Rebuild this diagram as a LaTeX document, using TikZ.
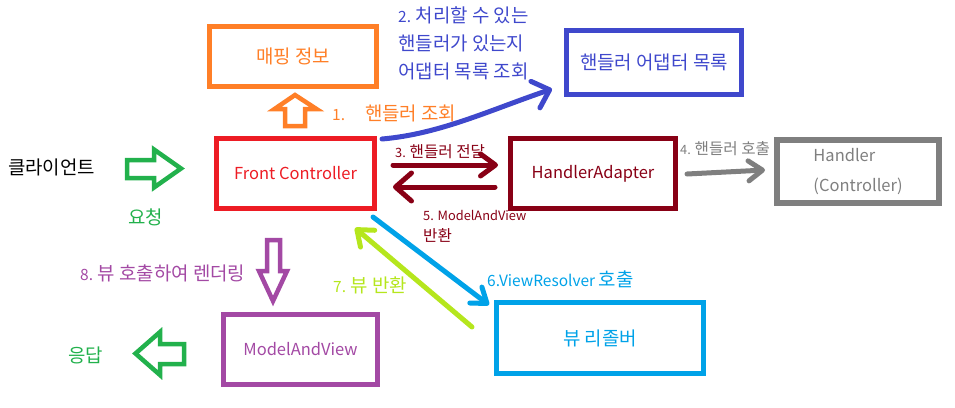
\documentclass[tikz,border=0pt]{standalone}
\usepackage{fontspec}
\setmainfont{Noto Sans CJK KR}
\newfontfamily\krf{Noto Sans CJK KR}[Scale=1.22]
\newcommand\K[1]{{\krf #1}}
\usetikzlibrary{arrows.meta}
\definecolor{corange}{HTML}{FF7F27}
\definecolor{cblue}{HTML}{3F48CC}
\definecolor{cred}{HTML}{ED1C24}
\definecolor{cdarkred}{HTML}{880015}
\definecolor{cgray}{HTML}{7F7F7F}
\definecolor{clblue}{HTML}{00A2E8}
\definecolor{clime}{HTML}{B5E61D}
\definecolor{cpurple}{HTML}{A349A4}
\definecolor{cgreen}{HTML}{22B14C}
\tikzset{
  box/.style={draw, line width=5pt, inner sep=0pt, align=center, font=\fontsize{16.5}{20}\selectfont},
  lbl/.style={anchor=west, inner sep=0pt, font=\fontsize{15.5}{18}\selectfont},
  small/.style={anchor=west, inner sep=0pt, font=\fontsize{12.8}{15}\selectfont},
  conn/.style={line width=5pt, line cap=round, line join=round},
  blockarrow/.style={line width=4.5pt, line join=miter},
}
\begin{document}
\begin{tikzpicture}[x=1pt,y=-1pt]
\useasboundingbox (0,0) rectangle (955,407);
% boxes
\node[box, draw=corange, text=corange, minimum width=167pt, minimum height=60pt, font=\fontsize{15.5}{18}\selectfont] (map) at (293,56.5) {\K{매핑 정보}};
\node[box, draw=cblue, text=cblue, minimum width=175pt, minimum height=64pt, font=\fontsize{15.5}{18}\selectfont] (hal) at (654,62.5) {\K{핸들러 어댑터 목록}};
\node[box, draw=cred, text=cred, minimum width=158pt, minimum height=70pt] (fc) at (295.5,173.5) {Front Controller};
\node[box, draw=cdarkred, text=cdarkred, minimum width=165pt, minimum height=70pt] (ha) at (593,173.5) {HandlerAdapter};
\node[box, draw=cgray, text=cgray, line width=6pt, minimum width=162pt, minimum height=63pt, align=left, font=\fontsize{16.5}{30}\selectfont] (hd) at (858,171.5) {Handler\\(Controller)};
\node[box, draw=clblue, text=clblue, minimum width=207pt, minimum height=71pt, font=\fontsize{15.5}{18}\selectfont] (vr) at (600,338) {\K{뷰 리졸버}};
\node[box, draw=cpurple, text=cpurple, minimum width=154pt, minimum height=70pt] (mav) at (300.5,349.5) {ModelAndView};

% labels
\node[anchor=west, inner sep=0pt, font=\fontsize{15.5}{20}\selectfont] (client) at (8,167) {\K{클라이언트}};
\node[lbl, text=cgreen] (req) at (128,217) {\K{요청}};
\node[lbl, text=cgreen] (resp) at (68,355) {\K{응답}};
\node[lbl, text=corange] (l1) at (332,113) {1.\hspace{20pt}\K{핸들러 조회}};
\node[lbl, text=cblue, align=left, font=\fontsize{15.5}{28}\selectfont] (l2) at (398,43) {2. \K{처리할 수 있는}\\\K{핸들러가 있는지}\\\K{어댑터 목록 조회}};
\node[small, text=cdarkred] (l3) at (395,152) {3. \K{핸들러 전달}};
\node[small, text=cgray] (l4) at (680,149) {4. \K{핸들러 호출}};
\node[small, text=cdarkred, align=left, font=\fontsize{12.8}{21}\selectfont] (l5) at (423,226.5) {5. ModelAndView\\\K{반환}};
\node[lbl, text=clblue] (l6) at (487,279) {6.ViewResolver \K{호출}};
\node[lbl, text=clime] (l7) at (333,285) {7. \K{뷰 반환}};
\node[lbl, text=cpurple] (l8) at (80,273) {8. \K{뷰 호출하여 렌더링}};

% block arrows
\draw[blockarrow, cgreen] (127,160) -- (154,160) -- (154,149.5) -- (181,168.5) -- (154,187.5) -- (154,178) -- (127,178) -- cycle;
\draw[blockarrow, corange] (285,126) -- (285,109) -- (274.5,109) -- (295,95) -- (316.5,109) -- (305,109) -- (305,126) -- cycle;
\draw[blockarrow, cpurple] (267,240) -- (280,240) -- (280,271) -- (287,271) -- (273,301) -- (259,271) -- (267,271) -- cycle;
\draw[blockarrow, cgreen] (184,344) -- (160,344) -- (160,332) -- (135.5,353.5) -- (160,375) -- (160,364) -- (184,364) -- cycle;

% connector end points
\coordinate (fcTR) at (382,139);
\coordinate (halIn) at (552,89);
\coordinate (fcOut) at (393,165);
\coordinate (haIn) at (498,165);
\coordinate (haOut) at (495,187);
\coordinate (fcIn) at (393,187);
\coordinate (haR) at (687,174);
\coordinate (hdIn) at (765,170);
\coordinate (fcBR) at (373,217);
\coordinate (vrIn) at (489,305);
\coordinate (vrOut) at (472,327);
\coordinate (fcBin) at (355,228);

% connectors
\draw[conn, cblue, -{Straight Barb[length=15pt,width=28pt,round]}] (fcTR) .. controls (440,134) and (490,110) .. (halIn);
\draw[conn, cdarkred, -{Straight Barb[length=15pt,width=22pt,round]}] (fcOut) -- (haIn);
\draw[conn, cdarkred, -{Straight Barb[length=16pt,width=28pt,round]}] (haOut) -- (fcIn);
\draw[conn, cgray, -{Straight Barb[length=14pt,width=20pt,round]}] (haR) -- (hdIn);
\draw[conn, clblue, -{Straight Barb[length=14pt,width=20pt,round]}] (fcBR) -- (vrIn);
\draw[conn, clime, -{Straight Barb[length=14pt,width=22pt,round]}] (vrOut) -- (fcBin);
\end{tikzpicture}
\end{document}
